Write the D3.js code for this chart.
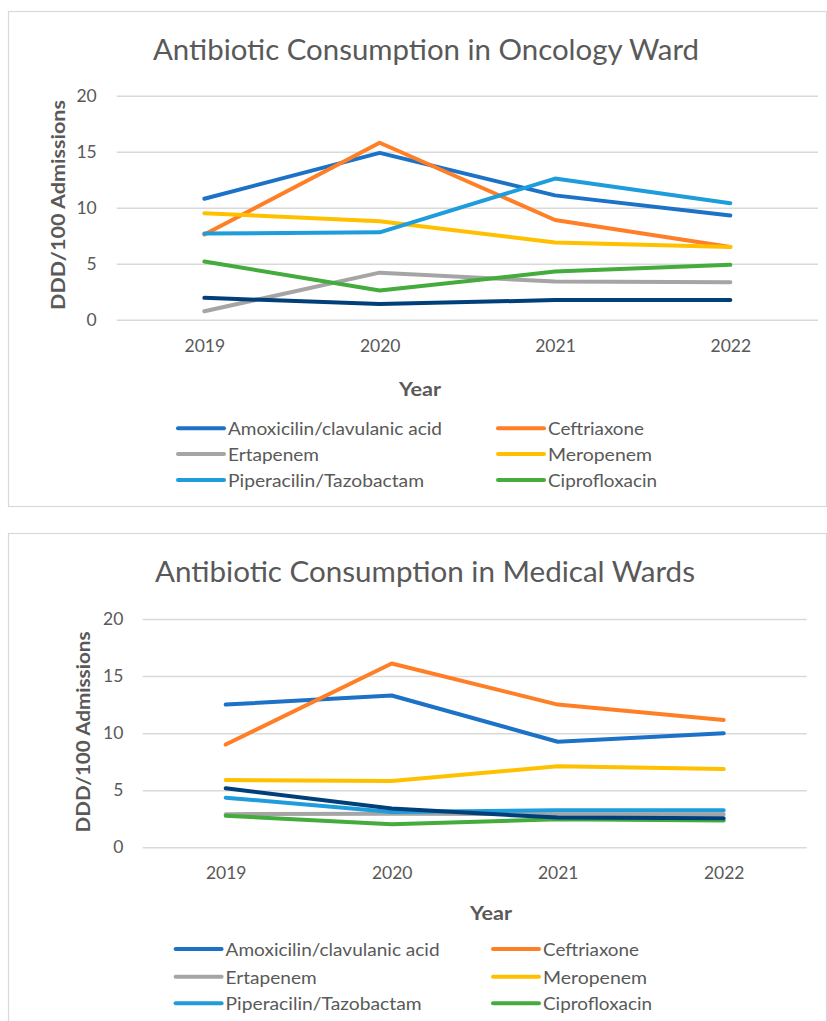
<!DOCTYPE html>
<html>
<head>
<meta charset="utf-8">
<script src="https://cdn.jsdelivr.net/npm/d3@7"></script>
<style>
  html, body { margin: 0; padding: 0; background: #ffffff; }
  svg { display: block; }
  text { font-family: Lato, "Open Sans", sans-serif; fill: #595959; }
</style>
</head>
<body>
<svg id="chart" width="827" height="1021"></svg>
<script>
// ---------- data ----------
const years = ["2019", "2020", "2021", "2022"];
const drugNames = ["Amoxicilin/clavulanic acid", "Ceftriaxone", "Ertapenem", "Meropenem", "Piperacilin/Tazobactam", "Ciprofloxacin"];
const yTicks = [0, 5, 10, 15, 20];

const oncologyTitle = "Antibiotic Consumption in Oncology Ward";
const oncologyAmoxicilin = [10.8, 14.9, 11.1, 9.3];
const oncologyCeftriaxone = [7.6, 15.8, 8.9, 6.5];
const oncologyErtapenem = [0.75, 4.2, 3.4, 3.35];
const oncologyMeropenem = [9.5, 8.8, 6.9, 6.5];
const oncologyPiperacilin = [7.7, 7.8, 12.6, 10.4];
const oncologyCiprofloxacin = [5.2, 2.6, 4.3, 4.9];
const oncologyUnlabeled = [1.95, 1.4, 1.75, 1.75];

const medicalTitle = "Antibiotic Consumption in Medical Wards";
const medicalAmoxicilin = [12.5, 13.3, 9.25, 10.0];
const medicalCeftriaxone = [9.0, 16.1, 12.5, 11.15];
const medicalErtapenem = [2.9, 2.95, 2.9, 2.9];
const medicalMeropenem = [5.9, 5.8, 7.1, 6.85];
const medicalPiperacilin = [4.35, 3.1, 3.25, 3.25];
const medicalCiprofloxacin = [2.77, 2.02, 2.45, 2.35];
const medicalUnlabeled = [5.17, 3.4, 2.6, 2.55];

const xAxisTitle = "Year";
const yAxisTitle = "DDD/100 Admissions";

// ---------- styles ----------
const colors = ["#1C72C6", "#FF7F27", "#A5A5A5", "#FFC000", "#1E9CDB", "#44AC3C", "#003F7A"];

const svg = d3.select("#chart");

function fitText(sel, w) {
  sel.attr("textLength", w).attr("lengthAdjust", "spacingAndGlyphs");
}

function drawChart(cfg) {
  const g = svg.append("g");
  // frame
  g.append("rect")
    .attr("x", cfg.frame.x + 0.5).attr("y", cfg.frame.y + 0.5)
    .attr("width", cfg.frame.w).attr("height", cfg.frame.h)
    .attr("fill", "#fff").attr("stroke", "#D9D9D9").attr("stroke-width", 1.2);

  const x = d3.scalePoint().domain(years).range([cfg.plot.x0, cfg.plot.x1]).padding(0.5);
  const y = d3.scaleLinear().domain([0, 20]).range([cfg.plot.y0, cfg.plot.y1]);

  // gridlines + y labels
  const yAxis = g.append("g")
    .attr("transform", `translate(${cfg.plot.x0},0)`)
    .call(d3.axisLeft(y).tickValues(yTicks).tickSize(-(cfg.plot.x1 - cfg.plot.x0)).tickPadding(cfg.yTickPad));
  yAxis.select(".domain").remove();
  yAxis.selectAll(".tick line").attr("stroke", "#D9D9D9").attr("stroke-width", 1.5);
  yAxis.selectAll(".tick text")
    .attr("fill", "#595959").style("font-size", "17.5px").style("font-family", "Lato, sans-serif");

  // x labels
  const xAxis = g.append("g")
    .attr("transform", `translate(0,${cfg.plot.y0})`)
    .call(d3.axisBottom(x).tickSize(0).tickPadding(cfg.xTickPad));
  xAxis.select(".domain").remove();
  xAxis.selectAll(".tick text")
    .attr("fill", "#595959").style("font-size", "17.5px").style("font-family", "Lato, sans-serif");

  // lines
  const line = d3.line().x((d, i) => x(years[i])).y(d => y(d));
  cfg.series.forEach((s, i) => {
    g.append("path")
      .datum(s)
      .attr("d", line)
      .attr("fill", "none")
      .attr("stroke", colors[i])
      .attr("stroke-width", 4)
      .attr("stroke-linecap", "round")
      .attr("stroke-linejoin", "round");
  });

  // title
  g.append("text")
    .attr("x", cfg.title.x).attr("y", cfg.title.y)
    .attr("text-anchor", "middle")
    .style("font-size", "28px").style("font-weight", 400)
    .text(cfg.title.text)
    .call(fitText, cfg.title.w);

  // y axis title
  g.append("text")
    .attr("transform", `translate(${cfg.yTitle.x},${cfg.yTitle.y}) rotate(-90)`)
    .attr("text-anchor", "middle").attr("dominant-baseline", "central")
    .style("font-size", "18px").style("font-weight", 700)
    .text(yAxisTitle)
    .call(fitText, cfg.yTitle.w);

  // x axis title
  g.append("text")
    .attr("x", cfg.xTitle.x).attr("y", cfg.xTitle.y)
    .attr("text-anchor", "middle").attr("dominant-baseline", "central")
    .style("font-size", "18px").style("font-weight", 700)
    .text(xAxisTitle)
    .call(fitText, 42);

  // legend
  const legendWidths = [214, 96, 91, 104, 196, 109];
  drugNames.forEach((name, i) => {
    const col = i % 2, row = Math.floor(i / 2);
    const lx = cfg.legend.cols[col];
    const ly = cfg.legend.rows[row];
    g.append("line")
      .attr("x1", lx).attr("x2", lx + 46)
      .attr("y1", ly).attr("y2", ly)
      .attr("stroke", colors[i]).attr("stroke-width", 4).attr("stroke-linecap", "round");
    g.append("text")
      .attr("x", lx + 50).attr("y", ly)
      .attr("dominant-baseline", "central")
      .style("font-size", "18px")
      .text(name)
      .call(fitText, legendWidths[i]);
  });
}

drawChart({
  frame: { x: 8, y: 11, w: 818, h: 495 },
  plot: { x0: 116.7, x1: 818, y0: 319.7, y1: 95.7 },
  yTickPad: 20, xTickPad: 20,
  series: [oncologyAmoxicilin, oncologyCeftriaxone, oncologyErtapenem, oncologyMeropenem, oncologyPiperacilin, oncologyCiprofloxacin, oncologyUnlabeled],
  title: { text: oncologyTitle, x: 426, y: 60, w: 546 },
  yTitle: { x: 58, y: 205, w: 210 },
  xTitle: { x: 420, y: 389 },
  legend: { cols: [178, 498], rows: [428.3, 454, 480] }
});

drawChart({
  frame: { x: 8, y: 533, w: 818, h: 500 },
  plot: { x0: 142.7, x1: 806.7, y0: 847.3, y1: 619 },
  yTickPad: 19.4, xTickPad: 19,
  series: [medicalAmoxicilin, medicalCeftriaxone, medicalErtapenem, medicalMeropenem, medicalPiperacilin, medicalCiprofloxacin, medicalUnlabeled],
  title: { text: medicalTitle, x: 425, y: 581.5, w: 540 },
  yTitle: { x: 82.7, y: 732, w: 201 },
  xTitle: { x: 491, y: 912.5 },
  legend: { cols: [175.6, 493], rows: [949, 976.7, 1003.3] }
});
</script>
</body>
</html>
